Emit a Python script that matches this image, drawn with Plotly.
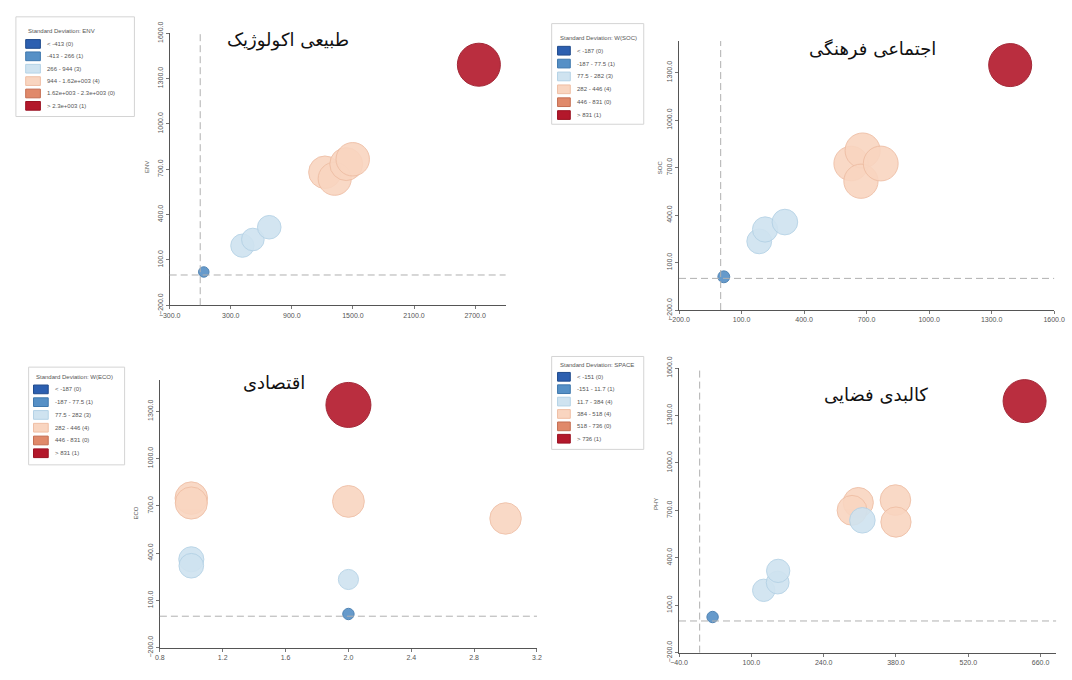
import math
import plotly.graph_objects as go

W, H = 1072, 680

# ---------------- data ----------------
# طبیعی اکولوژیک
eco_x = [35, 414, 517, 678, 1225, 1321, 1434, 1498, 2737]
eco_y = [20, 194, 235, 316, 680, 637, 734, 766, 1392]
eco_s = [150, 740, 700, 760, 1450, 1500, 1480, 1530, 2530]
eco_cls = [1, 2, 2, 2, 3, 3, 3, 3, 5]
eco_classes = ["< -413", "-413 - 266", "266 - 944", "944 - 1.62e+003",
               "1.62e+003 - 2.3e+003", "> 2.3e+003"]
eco_xticks = [-300, 300, 900, 1500, 2100, 2700]
eco_yticks = [-200, 100, 400, 700, 1000, 1300, 1600]

# اجتماعی فرهنگی
soc_x = [15, 185, 213, 308, 626, 681, 673, 768, 1389]
soc_y = [10, 234, 309, 356, 726, 808, 614, 726, 1348]
soc_s = [69, 300, 310, 320, 580, 600, 570, 590, 900]
soc_cls = [1, 2, 2, 2, 3, 3, 3, 3, 5]
soc_classes = ["< -187", "-187 - 77.5", "77.5 - 282", "282 - 446", "446 - 831", "> 831"]
soc_xticks = [-200, 100, 400, 700, 1000, 1300, 1600]
soc_yticks = [-200, 100, 400, 700, 1000, 1300]

# اقتصادی
ecn_x = [1, 1, 1, 1, 2, 2, 2, 2, 3]
ecn_y = [749, 718, 361, 320, 728, 233, 14, 1340, 620]
ecn_s = [470, 460, 280, 270, 450, 180, 58, 900, 440]
ecn_cls = [3, 3, 2, 2, 3, 2, 1, 5, 3]
ecn_classes = ["< -187", "-187 - 77.5", "77.5 - 282", "282 - 446", "446 - 831", "> 831"]
ecn_xticks = [0.8, 1.2, 1.6, 2.0, 2.4, 2.8, 3.2]
ecn_yticks = [-200, 100, 400, 700, 1000, 1300]

# کالبدی فضایی
phy_x = [25, 124, 151, 152, 315, 307, 295, 379, 380, 629]
phy_y = [25, 194, 243, 317, 637, 749, 700, 765, 626, 1391]
phy_s = [60, 230, 240, 250, 300, 420, 410, 430, 420, 850]
phy_cls = [1, 2, 2, 2, 2, 3, 3, 3, 3, 5]
phy_classes = ["< -151", "-151 - 11.7", "11.7 - 384", "384 - 518", "518 - 736", "> 736"]
phy_xticks = [-40, 100, 240, 380, 520, 660]
phy_yticks = [-200, 100, 400, 700, 1000, 1300, 1600]

# ---------------- styling ----------------
FILL = ["#2c5fb0", "#5690c6", "#cfe3f0", "#f9d5c0", "#e0896a", "#b3182b"]
EDGE = ["#1f4a8c", "#3f78ad", "#b4d2e6", "#efbea4", "#c46e52", "#9a1222"]
FONT = "Liberation Sans, Arial, sans-serif"
TITLE_FONT = "DejaVu Sans, Noto Sans, sans-serif"


def px(x):
    return x / W


def py(y):
    return 1 - y / H


panels = [
    dict(title="طبیعی اکولوژیک", x=eco_x, y=eco_y, s=eco_s, cls=eco_cls,
         classes=eco_classes, legend_title="Standard Deviation: ENV",
         xticks=eco_xticks, yticks=eco_yticks, xfmt=".1f",
         box=(162, 22, 505, 303), xr=[-300, 3000], yr=[-200, 1600], maxd=43,
         tpos=(283, 29), ytitle="ENV", ytpos=(139, 160), vline=True,
         leg=dict(frame=(5, 5, 126, 108), title=(15, 20), row0=33, dy=12.8,
                  bx=(15, 30), tx=35)),
    dict(title="اجتماعی فرهنگی", x=soc_x, y=soc_y, s=soc_s, cls=soc_cls,
         classes=soc_classes, legend_title="Standard Deviation: W(SOC)",
         xticks=soc_xticks, yticks=soc_yticks, xfmt=".1f",
         box=(682, 30, 1065, 308), xr=[-200, 1600], yr=[-200, 1500], maxd=43,
         tpos=(880, 38), ytitle="SOC", ytpos=(662, 160), vline=True,
         leg=dict(frame=(552, 12, 646, 116), title=(558, 27), row0=40, dy=13.3,
                  bx=(558, 571), tx=576)),
    dict(title="اقتصادی", x=ecn_x, y=ecn_y, s=ecn_s, cls=ecn_cls,
         classes=ecn_classes, legend_title="Standard Deviation: W(ECO)",
         xticks=ecn_xticks, yticks=ecn_yticks, xfmt=".1f",
         box=(152, 380, 537, 657), xr=[0.8, 3.2], yr=[-200, 1500], maxd=45,
         tpos=(268, 383), ytitle="ECO", ytpos=(128, 518), vline=False,
         leg=dict(frame=(18, 367, 116, 468), title=(23, 377), row0=390, dy=13.2,
                  bx=(23, 38), tx=43)),
    dict(title="کالبدی فضایی", x=phy_x, y=phy_y, s=phy_s, cls=phy_cls,
         classes=phy_classes, legend_title="Standard Deviation: SPACE",
         xticks=phy_xticks, yticks=phy_yticks, xfmt=".1f",
         box=(682, 368, 1067, 662), xr=[-40, 690], yr=[-200, 1600], maxd=43,
         tpos=(883, 395), ytitle="PHY", ytpos=(658, 508), vline=True,
         leg=dict(frame=(552, 356, 646, 452), title=(558, 365), row0=377, dy=12.8,
                  bx=(558, 571), tx=576)),
]

fig = go.Figure()
shapes = []
annotations = []
layout_axes = {}

for k, p in enumerate(panels, start=1):
    xa = "x" if k == 1 else f"x{k}"
    ya = "y" if k == 1 else f"y{k}"
    smax = max(p["s"])
    # bubbles, largest classes drawn first so small ones sit on top
    for c in [5, 4, 3, 2, 1, 0]:
        idx = [i for i, v in enumerate(p["cls"]) if v == c]
        if not idx:
            continue
        fig.add_trace(go.Scatter(
            x=[p["x"][i] for i in idx],
            y=[p["y"][i] for i in idx],
            mode="markers",
            marker=dict(
                size=[p["maxd"] * math.sqrt(p["s"][i] / smax) for i in idx],
                color=FILL[c], opacity=0.9,
                line=dict(color=EDGE[c], width=1)),
            xaxis=xa, yaxis=ya, showlegend=False,
            hovertemplate="%{x}, %{y}<extra></extra>"))

    l, t, r, b = p["box"]
    axis_common = dict(showgrid=False, zeroline=False, showline=True,
                       linecolor="#555", linewidth=1, ticks="outside",
                       ticklen=3, tickcolor="#777",
                       tickfont=dict(size=7, color="#555", family=FONT))
    layout_axes["xaxis" if k == 1 else f"xaxis{k}"] = dict(
        axis_common, domain=[px(l), px(r)], range=p["xr"], anchor=ya,
        tickvals=p["xticks"], tickformat=p["xfmt"], tickangle=0)
    layout_axes["yaxis" if k == 1 else f"yaxis{k}"] = dict(
        axis_common, domain=[py(b), py(t)], range=p["yr"], anchor=xa,
        tickvals=p["yticks"], tickformat=".1f", tickangle=-90)

    # dashed lines through the origin
    dash = dict(color="#b0b0b0", width=1, dash="7px,4px")
    shapes.append(dict(type="line", xref=f"{xa} domain", yref=ya,
                       x0=0, x1=1, y0=0, y1=0, line=dash))
    if p["vline"]:
        shapes.append(dict(type="line", xref=xa, yref=f"{ya} domain",
                           x0=0, x1=0, y0=0, y1=1, line=dash))

    # chart title
    annotations.append(dict(text=p["title"], x=px(p["tpos"][0]), y=py(p["tpos"][1]),
                            xref="paper", yref="paper", showarrow=False,
                            font=dict(size=18, color="#111", family=TITLE_FONT),
                            xanchor="center", yanchor="middle"))
    # y variable name
    annotations.append(dict(text=p["ytitle"], x=px(p["ytpos"][0]), y=py(p["ytpos"][1]),
                            xref="paper", yref="paper", showarrow=False, textangle=-90,
                            font=dict(size=6, color="#555", family=FONT),
                            xanchor="center", yanchor="middle"))

    # class legend
    lg = p["leg"]
    fx0, fy0, fx1, fy1 = lg["frame"]
    shapes.append(dict(type="rect", xref="paper", yref="paper",
                       x0=px(fx0), x1=px(fx1), y0=py(fy1), y1=py(fy0),
                       line=dict(color="#d4d4d4", width=1), fillcolor="rgba(0,0,0,0)"))
    annotations.append(dict(text=p["legend_title"], x=px(lg["title"][0]),
                            y=py(lg["title"][1]), xref="paper", yref="paper",
                            showarrow=False, xanchor="left", yanchor="middle",
                            font=dict(size=6, color="#555", family=FONT)))
    counts = [p["cls"].count(c) for c in range(6)]
    for c, lab in enumerate(p["classes"]):
        yc = lg["row0"] + c * lg["dy"]
        shapes.append(dict(type="rect", xref="paper", yref="paper",
                           x0=px(lg["bx"][0]), x1=px(lg["bx"][1]),
                           y0=py(yc + 4.5), y1=py(yc - 4.5),
                           fillcolor=FILL[c], line=dict(color=EDGE[c], width=1)))
        annotations.append(dict(text=f"{lab} ({counts[c]})", x=px(lg["tx"]), y=py(yc),
                                xref="paper", yref="paper", showarrow=False,
                                xanchor="left", yanchor="middle",
                                font=dict(size=6, color="#555", family=FONT)))

fig.update_layout(
    width=W, height=H, margin=dict(l=0, r=0, t=0, b=0),
    paper_bgcolor="white", plot_bgcolor="white",
    showlegend=False, shapes=shapes, annotations=annotations,
    **layout_axes)

fig.write_html("out.html")
